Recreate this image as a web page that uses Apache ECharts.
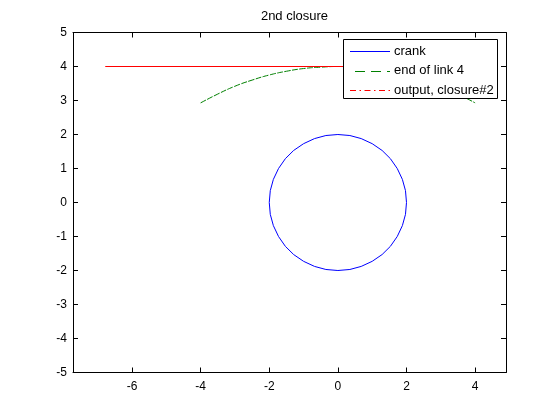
<!DOCTYPE html>
<html><head><meta charset="utf-8">
<script src="https://cdn.jsdelivr.net/npm/echarts@6/dist/echarts.min.js"></script>
<style>html,body{margin:0;padding:0;background:#fff}#c{width:560px;height:420px}</style>
</head><body><div id="c"></div>
<script>
var titleText = '2nd closure';
var seriesNames = ['crank', 'end of link 4', 'output, closure#2'];
var seriesColors = ['#0000ff', '#008000', '#ff0000'];
var legendDash = [null, [10, 6], [6, 3.5, 1.5, 3.5]];
var xTicks = [-6, -4, -2, 0, 2, 4];
var crankX = [2, 1.97, 1.88, 1.73, 1.53, 1.29, 1.00, 0.68, 0.35, 0, -0.35, -0.68, -1.00, -1.29, -1.53, -1.73, -1.88, -1.97, -2, -1.97, -1.88, -1.73, -1.53, -1.29, -1.00, -0.68, -0.35, 0, 0.35, 0.68, 1.00, 1.29, 1.53, 1.73, 1.88, 1.97, 2];
var crankY = [0, 0.35, 0.68, 1.00, 1.29, 1.53, 1.73, 1.88, 1.97, 2, 1.97, 1.88, 1.73, 1.53, 1.29, 1.00, 0.68, 0.35, 0, -0.35, -0.68, -1.00, -1.29, -1.53, -1.73, -1.88, -1.97, -2, -1.97, -1.88, -1.73, -1.53, -1.29, -1.00, -0.68, -0.35, 0];
var link4X = [-4, -3.5, -3, -2.5, -2, -1.5, -1, -0.5, 0, 0.5, 1, 1.5, 2, 2.5, 3, 3.5, 4];
var link4Y = [2.93, 3.19, 3.42, 3.60, 3.75, 3.86, 3.94, 3.98, 4.00, 3.98, 3.94, 3.86, 3.75, 3.60, 3.42, 3.19, 2.93];
var outputX = [-6.78, 2.0];
var outputY = [4, 4];

function zip(a, b) { return a.map(function (v, i) { return [v, b[i]]; }); }
var FONT = 'Liberation Sans, Arial, sans-serif';
var chart = echarts.init(document.getElementById('c'), null, {renderer: 'canvas'});
var axisCommon = {
  axisLine: {show: true, onZero: false, lineStyle: {color: '#000', width: 1}},
  axisTick: {show: true, inside: true, length: 5, lineStyle: {color: '#000'}},
  splitLine: {show: false}
};
// manual legend
var lg = {x: 343, y: 39, w: 154, h: 59, lineX0: 350, lineX1: 390, textX: 394, rowY: [51, 70.5, 90]};
var legendEls = [{type: 'rect', z: 100, shape: {x: lg.x + 0.5, y: lg.y + 0.5, width: lg.w, height: lg.h},
  style: {fill: '#fff', stroke: '#000', lineWidth: 1}}];
seriesNames.forEach(function (n, i) {
  legendEls.push({type: 'line', z: 101, shape: {x1: lg.lineX0 + (i === 1 ? 5 : 0), y1: Math.round(lg.rowY[i]) + 0.5, x2: lg.lineX1, y2: Math.round(lg.rowY[i]) + 0.5},
    style: {stroke: seriesColors[i], lineWidth: 1, lineDash: legendDash[i]}});
  legendEls.push({type: 'text', z: 101, x: lg.textX, y: lg.rowY[i],
    style: {text: n, fill: '#000', font: '13px ' + FONT, textVerticalAlign: 'middle', verticalAlign: 'middle'}});
});
chart.setOption({
  animation: false,
  backgroundColor: '#fff',
  title: {text: titleText, left: 289.5, textAlign: 'center', top: 5,
    textStyle: {fontFamily: FONT, fontSize: 13, fontWeight: 'normal', color: '#000'}},
  grid: {left: 73, top: 32.5, right: 54, bottom: 47.5},
  xAxis: [
    Object.assign({type: 'value', position: 'bottom', min: -7.72, max: 4.9,
      axisLabel: {show: true, customValues: xTicks, color: '#000', fontFamily: FONT, fontSize: 12, margin: 8}},
      axisCommon, {axisTick: {show: true, inside: true, length: 5, customValues: xTicks, lineStyle: {color: '#000'}}}),
    Object.assign({type: 'value', position: 'top', min: -7.72, max: 4.9,
      axisLabel: {show: false}},
      axisCommon, {axisTick: {show: true, inside: true, length: 5, customValues: xTicks, lineStyle: {color: '#000'}}})
  ],
  yAxis: [
    Object.assign({type: 'value', position: 'left', min: -5, max: 5, interval: 1,
      axisLabel: {show: true, color: '#000', fontFamily: FONT, fontSize: 12, margin: 6}}, axisCommon),
    Object.assign({type: 'value', position: 'right', min: -5, max: 5, interval: 1,
      axisLabel: {show: false}}, axisCommon)
  ],
  graphic: legendEls,
  series: [
    {name: seriesNames[0], type: 'line', data: zip(crankX, crankY), showSymbol: false, symbol: 'none',
      lineStyle: {color: seriesColors[0], width: 1}},
    {name: seriesNames[1], type: 'line', data: zip(link4X, link4Y), showSymbol: false, symbol: 'none', smooth: true,
      lineStyle: {color: seriesColors[1], width: 1, type: [6, 1.5]}},
    {name: seriesNames[2], type: 'line', data: zip(outputX, outputY), showSymbol: false, symbol: 'none',
      lineStyle: {color: seriesColors[2], width: 1}}
  ]
});
</script></body></html>
